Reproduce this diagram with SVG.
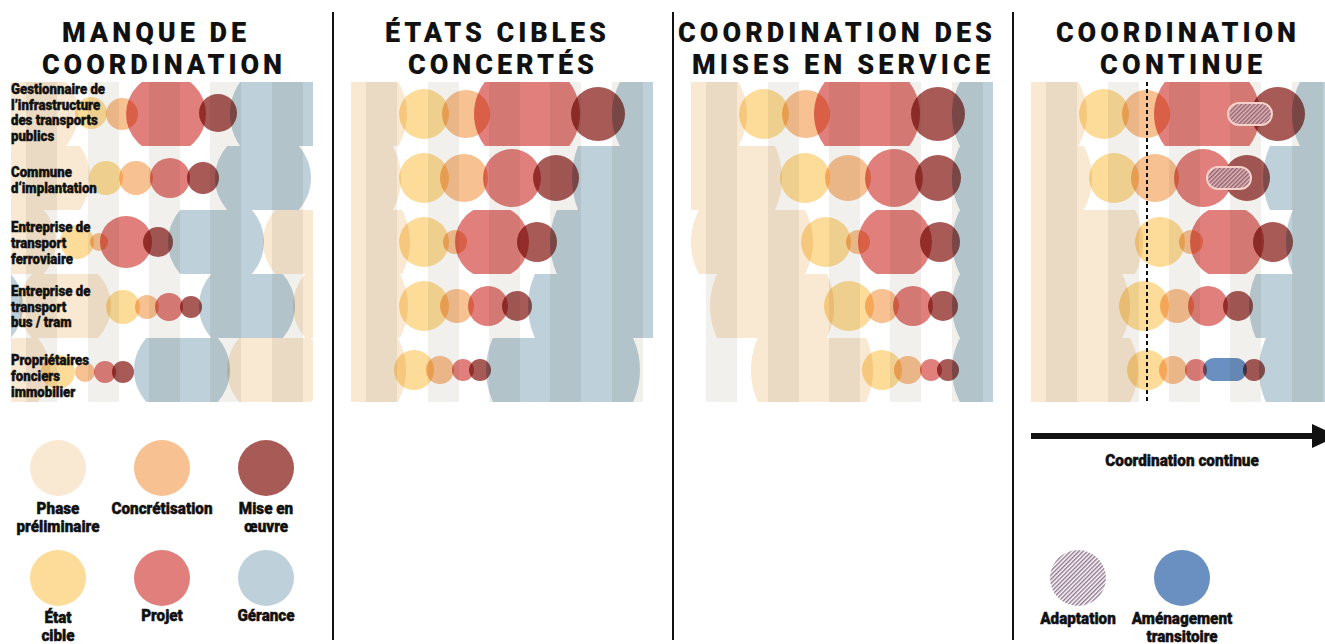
<svg xmlns="http://www.w3.org/2000/svg" xmlns:xlink="http://www.w3.org/1999/xlink" width="1325" height="644" viewBox="0 0 1325 644">
<style>
.m{mix-blend-mode:multiply}
.pp{fill:#f9e8d2}.cc{fill:#f8c191}.mo{fill:#a85a57}.ec{fill:#fcdc98}.pj{fill:#e07f7b}.ge{fill:#bed0da}.am{fill:#6a8fc1}
.st{fill:#f1f0ed}
.t{font-family:Roboto,"Liberation Sans",sans-serif;font-weight:900;font-size:27px;fill:#111}
.l{font-family:Roboto,"Liberation Sans",sans-serif;font-weight:900;font-size:14.5px;fill:#111;stroke:#111;stroke-width:0.45}
.g{font-family:Roboto,"Liberation Sans",sans-serif;font-weight:900;font-size:16.5px;fill:#111;stroke:#111;stroke-width:0.45;text-anchor:middle}
.div{stroke:#111;stroke-width:2}
.pill{fill:#e9b6ae;stroke:#f4d2cb;stroke-width:2}
</style>
<defs>
<g id="stripes"><rect class="st" x="15" y="0" width="31" height="64"/><rect class="st" x="77" y="0" width="31" height="64"/><rect class="st" x="138" y="0" width="31" height="64"/><rect class="st" x="199" y="0" width="31" height="64"/><rect class="st" x="261" y="0" width="31" height="64"/></g>
<pattern id="hatch" width="3" height="3" patternUnits="userSpaceOnUse" patternTransform="rotate(45)"><line x1="0.8" y1="-1" x2="0.8" y2="5" stroke="#6a4666" stroke-width="1.1"/></pattern>
<clipPath id="c11"><rect x="11" y="82" width="302" height="64"/></clipPath>
<clipPath id="c12"><rect x="11" y="146" width="302" height="64"/></clipPath>
<clipPath id="c13"><rect x="11" y="210" width="302" height="64"/></clipPath>
<clipPath id="c14"><rect x="11" y="274" width="302" height="64"/></clipPath>
<clipPath id="c15"><rect x="11" y="338" width="302" height="64"/></clipPath>
<clipPath id="c21"><rect x="351" y="82" width="302" height="64"/></clipPath>
<clipPath id="c22"><rect x="351" y="146" width="302" height="64"/></clipPath>
<clipPath id="c23"><rect x="351" y="210" width="302" height="64"/></clipPath>
<clipPath id="c24"><rect x="351" y="274" width="302" height="64"/></clipPath>
<clipPath id="c25"><rect x="351" y="338" width="302" height="64"/></clipPath>
<clipPath id="c31"><rect x="691" y="82" width="302" height="64"/></clipPath>
<clipPath id="c32"><rect x="691" y="146" width="302" height="64"/></clipPath>
<clipPath id="c33"><rect x="691" y="210" width="302" height="64"/></clipPath>
<clipPath id="c34"><rect x="691" y="274" width="302" height="64"/></clipPath>
<clipPath id="c35"><rect x="691" y="338" width="302" height="64"/></clipPath>
<clipPath id="c41"><rect x="1031" y="82" width="302" height="64"/></clipPath>
<clipPath id="c42"><rect x="1031" y="146" width="302" height="64"/></clipPath>
<clipPath id="c43"><rect x="1031" y="210" width="302" height="64"/></clipPath>
<clipPath id="c44"><rect x="1031" y="274" width="302" height="64"/></clipPath>
<clipPath id="c45"><rect x="1031" y="338" width="302" height="64"/></clipPath>
</defs>
<rect width="1325" height="644" fill="#fff"/>

<g id="dividers">
<line class="div" x1="333" y1="12" x2="333" y2="640"/>
<line class="div" x1="673" y1="12" x2="673" y2="640"/>
<line class="div" x1="1013" y1="12" x2="1013" y2="640"/>
</g>

<g id="titles">
<text class="t" x="62" y="42" textLength="184" lengthAdjust="spacing">MANQUE DE</text>
<text class="t" x="42" y="74" textLength="240" lengthAdjust="spacing">COORDINATION</text>
<text class="t" x="385" y="42" textLength="221" lengthAdjust="spacing">ÉTATS CIBLES</text>
<text class="t" x="408" y="74" textLength="186" lengthAdjust="spacing">CONCERTÉS</text>
<text class="t" x="678" y="42" textLength="314" lengthAdjust="spacing">COORDINATION DES</text>
<text class="t" x="692" y="74" textLength="298" lengthAdjust="spacing">MISES EN SERVICE</text>
<text class="t" x="1056" y="42" textLength="240" lengthAdjust="spacing">COORDINATION</text>
<text class="t" x="1100" y="74" textLength="162" lengthAdjust="spacing">CONTINUE</text>
</g>

<g id="panel1">
<g clip-path="url(#c11)"><use href="#stripes" x="11" y="82"/>
<circle class="m pp" cx="30" cy="114" r="48"/><circle class="m ec" cx="91" cy="113" r="16"/><circle class="m cc" cx="122" cy="114" r="16"/><circle class="m pj" cx="166" cy="114" r="40"/><circle class="m mo" cx="218" cy="113" r="19"/><circle class="m ge" cx="286" cy="114" r="56"/></g>
<g clip-path="url(#c12)"><use href="#stripes" x="11" y="146"/>
<circle class="m pp" cx="34" cy="178" r="56"/><circle class="m ec" cx="106" cy="178" r="17"/><circle class="m cc" cx="136" cy="178" r="17"/><circle class="m pj" cx="170" cy="178" r="20"/><circle class="m mo" cx="203" cy="178" r="16"/><circle class="m ge" cx="263" cy="178" r="48"/></g>
<g clip-path="url(#c13)"><use href="#stripes" x="11" y="210"/>
<circle class="m pp" cx="8" cy="242" r="48"/><circle class="m ec" cx="77" cy="242" r="17"/><circle class="m cc" cx="99" cy="242" r="9"/><circle class="m pj" cx="126" cy="242" r="26"/><circle class="m mo" cx="158" cy="242" r="15"/><circle class="m ge" cx="216" cy="242" r="48"/><circle class="m pp" cx="311" cy="242" r="48"/></g>
<g clip-path="url(#c14)"><use href="#stripes" x="11" y="274"/>
<circle class="m ge" cx="-25" cy="306" r="48"/><circle class="m pp" cx="65" cy="306" r="46"/><circle class="m ec" cx="123" cy="307" r="17"/><circle class="m cc" cx="147" cy="307" r="12"/><circle class="m pj" cx="169" cy="307" r="14"/><circle class="m mo" cx="191" cy="307" r="11"/><circle class="m ge" cx="247" cy="306" r="48"/><circle class="m pp" cx="341" cy="306" r="48"/></g>
<g clip-path="url(#c15)"><use href="#stripes" x="11" y="338"/>
<circle class="m pp" cx="2" cy="370" r="48"/><circle class="m ec" cx="58" cy="372" r="17"/><circle class="m cc" cx="85" cy="372" r="10"/><circle class="m pj" cx="105" cy="372" r="11"/><circle class="m mo" cx="123" cy="372" r="11"/><circle class="m ge" cx="182" cy="370" r="48"/><circle class="m pp" cx="275" cy="370" r="48"/></g>
<g id="rowlabels" transform="translate(11,0) scale(0.91,1)">
<text class="l" x="0" y="94">Gestionnaire de</text>
<text class="l" x="0" y="110">l’infrastructure</text>
<text class="l" x="0" y="125">des transports</text>
<text class="l" x="0" y="141">publics</text>
<text class="l" x="0" y="177">Commune</text>
<text class="l" x="0" y="193">d‘implantation</text>
<text class="l" x="0" y="232">Entreprise de</text>
<text class="l" x="0" y="248">transport</text>
<text class="l" x="0" y="264">ferroviaire</text>
<text class="l" x="0" y="296">Entreprise de</text>
<text class="l" x="0" y="312">transport</text>
<text class="l" x="0" y="327">bus / tram</text>
<text class="l" x="0" y="365">Propriétaires</text>
<text class="l" x="0" y="381">fonciers</text>
<text class="l" x="0" y="397">immobilier</text>
</g>
</g>

<g id="panel2">
<g clip-path="url(#c21)"><use href="#stripes" x="351" y="82"/>
<circle class="m pp" cx="344" cy="114" r="63"/><circle class="m ec" cx="424" cy="114" r="25"/><circle class="m cc" cx="466" cy="114" r="24"/><circle class="m pj" cx="527" cy="114" r="53"/><circle class="m mo" cx="598" cy="114" r="27"/><circle class="m ge" cx="680" cy="114" r="68"/></g>
<g clip-path="url(#c22)"><use href="#stripes" x="351" y="146"/>
<circle class="m pp" cx="335" cy="178" r="66"/><circle class="m ec" cx="424" cy="178" r="25"/><circle class="m cc" cx="464" cy="178" r="24"/><circle class="m pj" cx="512" cy="178" r="29"/><circle class="m mo" cx="556" cy="178" r="23"/><circle class="m ge" cx="660" cy="178" r="88"/></g>
<g clip-path="url(#c23)"><use href="#stripes" x="351" y="210"/>
<circle class="m pp" cx="342" cy="242" r="68"/><circle class="m ec" cx="424" cy="242" r="25"/><circle class="m cc" cx="455" cy="242" r="12"/><circle class="m pj" cx="492" cy="242" r="37"/><circle class="m mo" cx="537" cy="242" r="20"/><circle class="m ge" cx="627" cy="242" r="77"/></g>
<g clip-path="url(#c24)"><use href="#stripes" x="351" y="274"/>
<circle class="m pp" cx="342" cy="306" r="66"/><circle class="m ec" cx="424" cy="306" r="25"/><circle class="m cc" cx="457" cy="306" r="17"/><circle class="m pj" cx="488" cy="306" r="20"/><circle class="m mo" cx="517" cy="306" r="15"/><circle class="m ge" cx="605" cy="306" r="77"/></g>
<g clip-path="url(#c25)"><use href="#stripes" x="351" y="338"/>
<circle class="m pp" cx="340" cy="370" r="66"/><circle class="m ec" cx="414" cy="370" r="20"/><circle class="m cc" cx="440" cy="370" r="14"/><circle class="m pj" cx="463" cy="370" r="11"/><circle class="m mo" cx="480" cy="370" r="11"/><circle class="m ge" cx="563" cy="370" r="77"/></g>
</g>

<g id="panel3">
<g clip-path="url(#c31)"><use href="#stripes" x="691" y="82"/>
<circle class="m pp" cx="684" cy="114" r="63"/><circle class="m ec" cx="764" cy="114" r="25"/><circle class="m cc" cx="806" cy="114" r="24"/><circle class="m pj" cx="867" cy="114" r="53"/><circle class="m mo" cx="938" cy="114" r="27"/><circle class="m ge" cx="1020" cy="114" r="68"/></g>
<g clip-path="url(#c32)"><use href="#stripes" x="691" y="146"/>
<circle class="m pp" cx="705" cy="178" r="77"/><circle class="m ec" cx="805" cy="178" r="25"/><circle class="m cc" cx="848" cy="178" r="23"/><circle class="m pj" cx="894" cy="178" r="29"/><circle class="m mo" cx="938" cy="178" r="23"/><circle class="m ge" cx="1020" cy="178" r="68"/></g>
<g clip-path="url(#c33)"><use href="#stripes" x="691" y="210"/>
<ellipse class="m pp" cx="752" cy="242" rx="61" ry="65"/><circle class="m ec" cx="826" cy="242" r="25"/><circle class="m cc" cx="858" cy="242" r="12"/><circle class="m pj" cx="895" cy="242" r="37"/><circle class="m mo" cx="940" cy="242" r="20"/><circle class="m ge" cx="1020" cy="242" r="68"/></g>
<g clip-path="url(#c34)"><use href="#stripes" x="691" y="274"/>
<ellipse class="m pp" cx="772" cy="306" rx="62" ry="69"/><circle class="m ec" cx="849" cy="306" r="25"/><circle class="m cc" cx="882" cy="306" r="17"/><circle class="m pj" cx="913" cy="306" r="20"/><circle class="m mo" cx="943" cy="306" r="15"/><circle class="m ge" cx="1020" cy="306" r="68"/></g>
<g clip-path="url(#c35)"><use href="#stripes" x="691" y="338"/>
<ellipse class="m pp" cx="812" cy="370" rx="61" ry="69"/><circle class="m ec" cx="882" cy="370" r="20"/><circle class="m cc" cx="908" cy="370" r="14"/><circle class="m pj" cx="931" cy="370" r="11"/><circle class="m mo" cx="948" cy="370" r="11"/><circle class="m ge" cx="1020" cy="370" r="68"/></g>
</g>

<g id="panel4">
<g clip-path="url(#c41)"><use href="#stripes" x="1031" y="82"/>
<circle class="m pp" cx="1024" cy="114" r="63"/><circle class="m ec" cx="1104" cy="114" r="25"/><circle class="m cc" cx="1146" cy="114" r="24"/><circle class="m pj" cx="1207" cy="114" r="53"/><circle class="m mo" cx="1278" cy="114" r="27"/><circle class="m ge" cx="1360" cy="114" r="68"/></g>
<g clip-path="url(#c42)"><use href="#stripes" x="1031" y="146"/>
<circle class="m pp" cx="1026" cy="178" r="66"/><circle class="m ec" cx="1114" cy="178" r="25"/><circle class="m cc" cx="1155" cy="178" r="24"/><circle class="m pj" cx="1203" cy="178" r="29"/><circle class="m mo" cx="1247" cy="178" r="23"/><circle class="m ge" cx="1340" cy="178" r="77"/></g>
<g clip-path="url(#c43)"><use href="#stripes" x="1031" y="210"/>
<circle class="m pp" cx="1075" cy="242" r="68"/><circle class="m ec" cx="1160" cy="242" r="25"/><circle class="m cc" cx="1191" cy="242" r="12"/><circle class="m pj" cx="1227" cy="242" r="37"/><circle class="m mo" cx="1273" cy="242" r="20"/><circle class="m ge" cx="1363" cy="242" r="77"/></g>
<g clip-path="url(#c44)"><use href="#stripes" x="1031" y="274"/>
<circle class="m pp" cx="1062" cy="306" r="68"/><circle class="m ec" cx="1144" cy="306" r="25"/><circle class="m cc" cx="1177" cy="306" r="17"/><circle class="m pj" cx="1208" cy="306" r="20"/><circle class="m mo" cx="1238" cy="306" r="15"/><circle class="m ge" cx="1326" cy="306" r="77"/></g>
<g clip-path="url(#c45)"><use href="#stripes" x="1031" y="338"/>
<circle class="m pp" cx="1070" cy="370" r="68"/><circle class="m ec" cx="1147" cy="370" r="20"/><circle class="m cc" cx="1173" cy="370" r="14"/><circle class="m pj" cx="1196" cy="370" r="11"/><rect class="m am" x="1203" y="358" width="44" height="23" rx="11.5"/><circle class="m mo" cx="1254" cy="370" r="11"/><circle class="m ge" cx="1336" cy="370" r="77"/></g>
<g id="adapt1"><rect class="pill" x="1228" y="103" width="44" height="22" rx="11"/><rect x="1229" y="104" width="42" height="20" rx="10" fill="url(#hatch)"/></g>
<g id="adapt2"><rect class="pill" x="1207" y="167" width="44" height="22" rx="11"/><rect x="1208" y="168" width="42" height="20" rx="10" fill="url(#hatch)"/></g>
<line x1="1147" y1="82" x2="1147" y2="402" stroke="#111" stroke-width="2" stroke-dasharray="4 3"/>
</g>

<g id="connectors">
<line x1="1031" y1="436" x2="1314" y2="436" stroke="#111" stroke-width="6"/>
<polygon points="1312,424 1312,448 1338,436" fill="#111"/>
<text class="g" transform="translate(1182,0) scale(0.93,1)" x="0" y="466">Coordination continue</text>
</g>

<g id="legend">
<g id="lg-pp"><circle class="pp" cx="58" cy="468" r="28"/><g transform="translate(58,0) scale(0.925,1)"><text class="g" x="0" y="514">Phase</text><text class="g" x="0" y="532">préliminaire</text></g></g>
<g id="lg-cc"><circle class="cc" cx="162" cy="468" r="28"/><text class="g" transform="translate(162,0) scale(0.925,1)" x="0" y="514">Concrétisation</text></g>
<g id="lg-mo"><circle class="mo" cx="266" cy="468" r="28"/><g transform="translate(266,0) scale(0.925,1)"><text class="g" x="0" y="514">Mise en</text><text class="g" x="0" y="532">œuvre</text></g></g>
<g id="lg-ec"><circle class="ec" cx="58" cy="578" r="28"/><g transform="translate(58,0) scale(0.925,1)"><text class="g" x="0" y="623">État</text><text class="g" x="0" y="641">cible</text></g></g>
<g id="lg-pj"><circle class="pj" cx="162" cy="578" r="28"/><text class="g" transform="translate(162,0) scale(0.925,1)" x="0" y="621">Projet</text></g>
<g id="lg-ge"><circle class="ge" cx="266" cy="578" r="28"/><text class="g" transform="translate(266,0) scale(0.925,1)" x="0" y="621">Gérance</text></g>
<g id="lg-ad"><circle cx="1078" cy="578" r="28" fill="#fff"/><circle cx="1078" cy="578" r="28" fill="url(#hatch)"/><text class="g" transform="translate(1078,0) scale(0.925,1)" x="0" y="624">Adaptation</text></g>
<g id="lg-am"><circle class="am" cx="1182" cy="578" r="28"/><g transform="translate(1182,0) scale(0.925,1)"><text class="g" x="0" y="624">Aménagement</text><text class="g" x="0" y="642">transitoire</text></g></g>
</g>
</svg>
